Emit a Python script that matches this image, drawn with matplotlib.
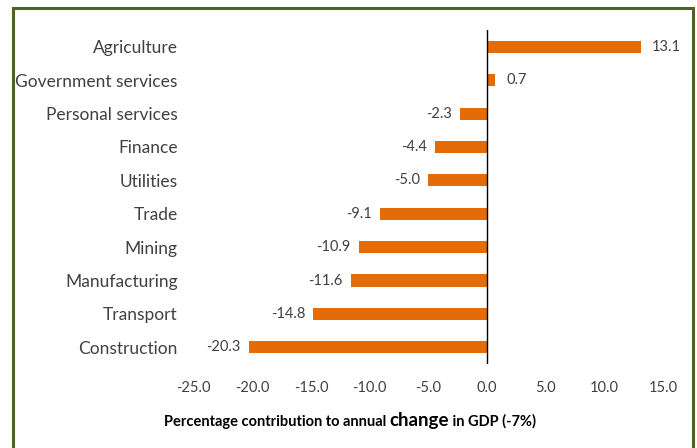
import matplotlib
matplotlib.use("Agg")
import matplotlib.pyplot as plt
from matplotlib.patches import Rectangle
from matplotlib.offsetbox import TextArea, HPacker, AnnotationBbox

# Sector contributions to annual GDP change (percentage points)
sectors = ["Agriculture", "Government services", "Personal services", "Finance",
           "Utilities", "Trade", "Mining", "Manufacturing", "Transport", "Construction"]
values = [13.1, 0.7, -2.3, -4.4, -5.0, -9.1, -10.9, -11.6, -14.8, -20.3]
xticks = [-25.0, -20.0, -15.0, -10.0, -5.0, 0.0, 5.0, 10.0, 15.0]

bar_color = "#E36C09"
text_color = "#404040"
font = "Lato"

fig = plt.figure(figsize=(6.97, 4.48), dpi=100)
ax = fig.add_axes([0.278, 0.1875, 0.673, 0.7455])

ypos = list(range(len(sectors)))[::-1]
ax.barh(ypos, values, height=0.36, color=bar_color, zorder=2)

for y, v in zip(ypos, values):
    if v >= 0:
        ax.annotate(f"{v:.1f}", (v, y), xytext=(8, 0), textcoords="offset points",
                    ha="left", va="center", fontsize=10.5, color=text_color, family=font)
    else:
        ax.annotate(f"{v:.1f}", (v, y), xytext=(-6, 0), textcoords="offset points",
                    ha="right", va="center", fontsize=10.5, color=text_color, family=font)

ax.set_xlim(-25, 15)
ax.set_ylim(-0.5, len(sectors) - 0.5)
ax.set_xticks(xticks)
ax.set_xticklabels([f"{t:.1f}" for t in xticks], family=font, fontsize=10.5, color=text_color)
ax.set_yticks(ypos)
ax.set_yticklabels(sectors, family=font, fontsize=12.5, color=text_color)
ax.tick_params(axis="both", length=0)
ax.tick_params(axis="x", pad=12)
ax.tick_params(axis="y", pad=11.5)
for s in ax.spines.values():
    s.set_visible(False)
ax.axvline(0, color="black", linewidth=1, zorder=3)

# Axis title with an emphasised word
parts = [
    TextArea("Percentage contribution to annual ",
             textprops=dict(fontsize=10.5, weight="bold", color="black", family=font)),
    TextArea("change",
             textprops=dict(fontsize=13.5, weight="bold", color="black", family=font)),
    TextArea(" in GDP (-7%)",
             textprops=dict(fontsize=10.5, weight="bold", color="black", family=font)),
]
box = HPacker(children=parts, align="baseline", pad=0, sep=0)
ab = AnnotationBbox(box, (350 / 697, 1 - 420 / 448), xycoords="figure fraction",
                    frameon=False, box_alignment=(0.5, 0.5))
fig.add_artist(ab)

# Outer frame
fig.add_artist(Rectangle((13 / 697, -0.05), 680 / 697, 1.05 - 8 / 448,
                         transform=fig.transFigure, fill=False,
                         edgecolor="#4F6228", linewidth=2.2, clip_on=False))

fig.savefig("out.png", dpi=100)
